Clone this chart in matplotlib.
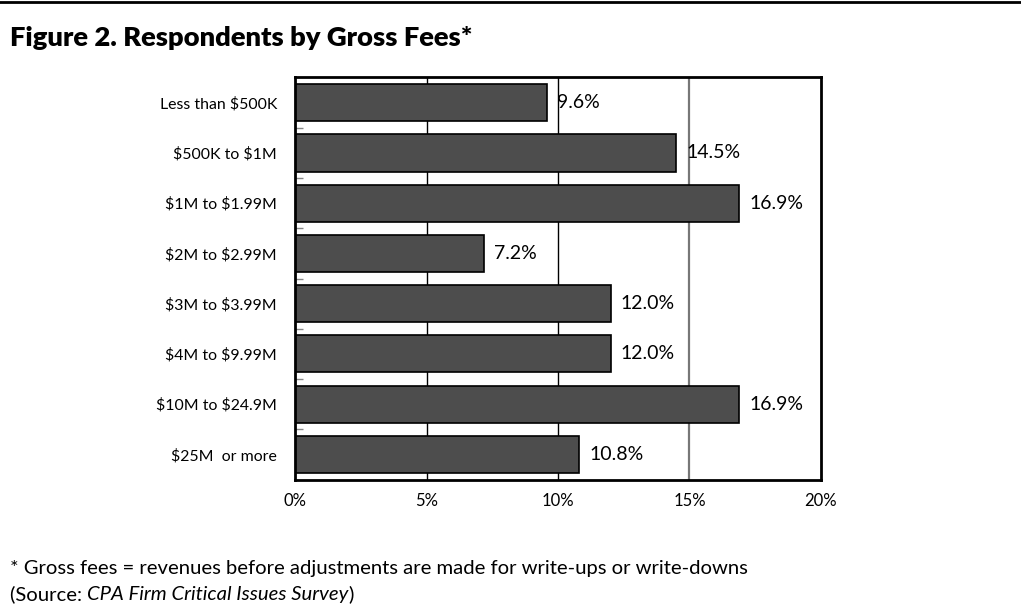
import numpy as np
import matplotlib.pyplot as plt
from matplotlib.lines import Line2D

plt.rcParams['font.family'] = ['Lato', 'DejaVu Sans']
plt.rcParams['text.parse_math'] = False

categories = ['Less than $500K', '$500K to $1M', '$1M to $1.99M', '$2M to $2.99M',
              '$3M to $3.99M', '$4M to $9.99M', '$10M to $24.9M', '$25M  or more']
shares = [9.6, 14.5, 16.9, 7.2, 12.0, 12.0, 16.9, 10.8]
xticks = [0, 5, 10, 15, 20]

fig = plt.figure(figsize=(10.21, 6.05), dpi=100)
ax = fig.add_axes([0.289, 0.2066, 0.515, 0.666])

y = np.arange(len(categories))
# grid lines behind the bars
for gx, col, lw in [(5, 'black', 1.0), (10, 'black', 1.0), (15, '#777777', 1.6)]:
    ax.axvline(gx, color=col, lw=lw, zorder=1)

ax.barh(y, shares, height=0.74, color='#4d4d4d', edgecolor='black', lw=1.2, zorder=2)
for yi, v in zip(y, shares):
    ax.annotate(f'{v:.1f}%', (v, yi), xytext=(10, 0), textcoords='offset pixels',
                va='center', ha='left', fontsize=14)

ax.set_xlim(0, 20)
ax.set_ylim(len(categories) - 0.5 + 0.01, -0.51)
ax.set_xticks(xticks)
ax.set_xticklabels([f'{t}%' for t in xticks], fontsize=12)
ax.tick_params(axis='x', length=0, pad=9)
ax.set_yticks(y)
ax.set_yticklabels(categories, fontsize=11.4)
ax.tick_params(axis='y', which='major', length=0, pad=13)
ax.set_yticks(y[:-1] + 0.5, minor=True)
ax.tick_params(axis='y', which='minor', direction='in', length=6, color='#888888', width=1)
for s in ax.spines.values():
    s.set_linewidth(2)

fig.add_artist(Line2D([0, 1], [0.996, 0.996], color='black', lw=2, transform=fig.transFigure))
fig.text(0.010, 0.937, 'Figure 2. Respondents by Gross Fees*', fontsize=19.7,
         fontweight='heavy', va='center', ha='left')
fig.text(0.010, 0.061, '* Gross fees = revenues before adjustments are made for write-ups or write-downs',
         fontsize=14.6, va='center', ha='left')

# source line with the survey name in italics
fig.canvas.draw()
r = fig.canvas.get_renderer()
yb = 0.008
t1 = fig.text(0.010, yb, '(Source: ', fontsize=14.6, va='baseline', ha='left')
x = t1.get_window_extent(r).x1 / fig.bbox.width
t2 = fig.text(x, yb, 'CPA Firm Critical Issues Survey', fontsize=14.6, style='italic',
              va='baseline', ha='left')
x = t2.get_window_extent(r).x1 / fig.bbox.width
fig.text(x, yb, ')', fontsize=14.6, va='baseline', ha='left')

fig.savefig('out.png', dpi=100)
